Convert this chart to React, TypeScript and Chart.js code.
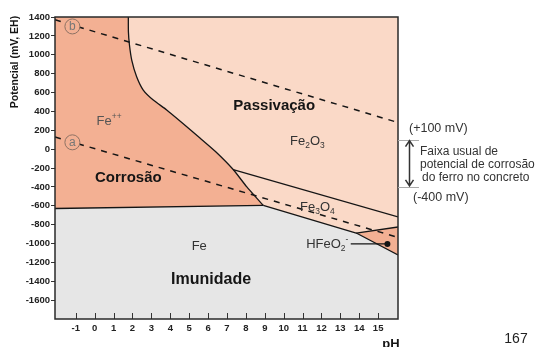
import React, { useEffect, useRef } from 'react';
import { Chart, registerables } from 'chart.js';

Chart.register(...registerables);

const FONT = '"Liberation Sans", Arial, sans-serif';

// axis ranges
const X_MIN = -2.1;
const X_MAX = 16.05;
const Y_MIN = -1800;
const Y_MAX = 1400;

// tick labels
const phTicks = [-1, 0, 1, 2, 3, 4, 5, 6, 7, 8, 9, 10, 11, 12, 13, 14, 15];
const potentialTicks = [1400, 1200, 1000, 800, 600, 400, 200, 0, -200, -400, -600, -800, -1000, -1200, -1400, -1600];

// Fe++ / oxides boundary (pH, mV)
const fePlusPlusBoundary = [
  { x: 1.78, y: 1400 },
  { x: 1.785, y: 1241 },
  { x: 1.84, y: 1103 },
  { x: 1.96, y: 944 },
  { x: 2.22, y: 767 },
  { x: 2.57, y: 626 },
  { x: 3.1, y: 520 },
  { x: 3.81, y: 415 },
  { x: 4.67, y: 272 },
  { x: 5.57, y: 118 },
  { x: 6.42, y: -30 },
  { x: 7.33, y: -216 },
  { x: 8.04, y: -398 },
  { x: 8.92, y: -597 },
];
// Fe / Fe++ boundary
const feFePlusPlusLine = [
  { x: X_MIN, y: -629 },
  { x: 8.92, y: -597 },
];
// Fe2O3 / Fe3O4 boundary
const fe2o3Fe3o4Line = [
  { x: 7.33, y: -216 },
  { x: X_MAX, y: -719 },
];
// Fe / Fe3O4 and Fe / HFeO2- boundary
const feLowerLine = [
  { x: 8.92, y: -597 },
  { x: 13.84, y: -889 },
  { x: X_MAX, y: -1122 },
];
// Fe3O4 / HFeO2- boundary
const fe3o4Hfeo2Line = [
  { x: 13.84, y: -889 },
  { x: X_MAX, y: -825 },
];
// water stability lines
const lineA = [
  { x: X_MIN, y: 128 },
  { x: X_MAX, y: -935 },
];
const lineB = [
  { x: X_MIN, y: 1370 },
  { x: X_MAX, y: 282 },
];
const circlePoints = [
  { x: -1.18, y: 1300 },
  { x: -1.18, y: 72 },
];
const circleLabels = ['b', 'a'];
const hfeo2Leader = [
  { x: 13.55, y: -1005 },
  { x: 15.49, y: -1005 },
];

// regions
const corrosionRegion = [{ x: X_MIN, y: Y_MAX }, ...fePlusPlusBoundary, { x: X_MIN, y: -629 }];
const passivationRegion = [...fePlusPlusBoundary, { x: 13.84, y: -889 }, { x: X_MAX, y: -825 }, { x: X_MAX, y: Y_MAX }];
const hfeo2Region = [{ x: 13.84, y: -889 }, { x: X_MAX, y: -825 }, { x: X_MAX, y: -1122 }];
const immunityRegion = [
  { x: X_MIN, y: -629 },
  { x: 8.92, y: -597 },
  { x: 13.84, y: -889 },
  { x: X_MAX, y: -1122 },
  { x: X_MAX, y: Y_MIN },
  { x: X_MIN, y: Y_MIN },
];

const SALMON = '#f3b093';
const PEACH = '#fad9c7';
const GREY = '#e6e6e6';
const INK = '#151515';

type Part = [string, number]; // 0 normal, 1 sub, 2 sup

function drawFormula(ctx: CanvasRenderingContext2D, parts: Part[], x: number, y: number, size: number, color: string, weight = 'normal', align = 'left') {
  const small = size * 0.65;
  let w = 0;
  for (const [t, m] of parts) {
    ctx.font = `${weight} ${m ? small : size}px ${FONT}`;
    w += ctx.measureText(t).width;
  }
  let cx = align === 'center' ? x - w / 2 : x;
  ctx.fillStyle = color;
  ctx.textAlign = 'left';
  for (const [t, m] of parts) {
    ctx.font = `${weight} ${m ? small : size}px ${FONT}`;
    const dy = m === 1 ? size * 0.25 : m === 2 ? -size * 0.45 : 0;
    ctx.fillText(t, cx, y + dy);
    cx += ctx.measureText(t).width;
  }
}

const annotations = {
  id: 'annotations',
  afterDatasetsDraw(chart: any) {
    const { ctx, chartArea: a, scales } = chart;
    const xs = scales.x;
    const ys = scales.y;
    const px = (v: number) => xs.getPixelForValue(v);
    const py = (v: number) => ys.getPixelForValue(v);
    ctx.save();

    // inward x ticks
    ctx.strokeStyle = '#333';
    ctx.lineWidth = 1;
    for (const t of phTicks) {
      const x = Math.round(px(t)) + 0.5;
      ctx.beginPath();
      ctx.moveTo(x, a.bottom);
      ctx.lineTo(x, a.bottom - 6);
      ctx.stroke();
    }

    // frame
    ctx.strokeStyle = '#2a2a2a';
    ctx.lineWidth = 1.5;
    ctx.strokeRect(a.left, a.top, a.right - a.left, a.bottom - a.top);

    // circle labels
    ctx.textAlign = 'center';
    ctx.textBaseline = 'middle';
    ctx.font = `12px ${FONT}`;
    ctx.fillStyle = '#777';
    circlePoints.forEach((p, i) => {
      ctx.fillText(circleLabels[i], px(p.x), py(p.y) + 0.5);
    });

    // region labels
    ctx.textBaseline = 'alphabetic';
    drawFormula(ctx, [['Fe', 0], ['++', 2]], px(0.1), py(256), 13, '#555');
    drawFormula(ctx, [['Fe', 0], ['2', 1], ['O', 0], ['3', 1]], px(10.34), py(44), 13, '#333');
    drawFormula(ctx, [['Fe', 0], ['3', 1], ['O', 0], ['4', 1]], px(10.87), py(-656), 13, '#333');
    drawFormula(ctx, [['Fe', 0]], px(5.13), py(-1069), 13, '#333');
    drawFormula(ctx, [['HFeO', 0], ['2', 1], ['-', 2]], px(11.19), py(-1048), 13, '#333');

    ctx.textBaseline = 'middle';
    ctx.textAlign = 'center';
    ctx.fillStyle = INK;
    ctx.font = `bold 15px ${FONT}`;
    ctx.fillText('Corrosão', px(1.78), py(-306));
    ctx.fillText('Passivação', px(9.5), py(457));
    ctx.font = `bold 16px ${FONT}`;
    ctx.fillText('Imunidade', px(6.16), py(-1387));

    // right-side annotation
    const yTop = py(100);
    const yBot = py(-400);
    ctx.strokeStyle = '#aaa';
    ctx.lineWidth = 1;
    ctx.beginPath();
    ctx.moveTo(a.right, Math.round(yTop) + 0.5);
    ctx.lineTo(a.right + 21, Math.round(yTop) + 0.5);
    ctx.moveTo(a.right, Math.round(yBot) + 0.5);
    ctx.lineTo(a.right + 21, Math.round(yBot) + 0.5);
    ctx.stroke();

    const ax = a.right + 11.5;
    ctx.strokeStyle = '#333';
    ctx.lineWidth = 1.5;
    ctx.beginPath();
    ctx.moveTo(ax, yTop + 1);
    ctx.lineTo(ax, yBot - 1);
    ctx.moveTo(ax - 4, yTop + 7);
    ctx.lineTo(ax, yTop + 1);
    ctx.lineTo(ax + 4, yTop + 7);
    ctx.moveTo(ax - 4, yBot - 7);
    ctx.lineTo(ax, yBot - 1);
    ctx.lineTo(ax + 4, yBot - 7);
    ctx.stroke();

    ctx.fillStyle = '#333';
    ctx.textAlign = 'left';
    ctx.font = `12.5px ${FONT}`;
    ctx.fillText('(+100 mV)', a.right + 11, yTop - 11);
    ctx.fillText('(-400 mV)', a.right + 15, yBot + 10.5);
    ctx.font = `12px ${FONT}`;
    ctx.fillText('Faixa usual de', a.right + 22, yTop + 12);
    ctx.fillText('potencial de corrosão', a.right + 22, yTop + 25);
    ctx.fillText('do ferro no concreto', a.right + 24, yTop + 38);

    // page number
    ctx.textAlign = 'center';
    ctx.fillStyle = '#222';
    ctx.font = `14px ${FONT}`;
    ctx.fillText('167', 516, 339.5);

    // axis titles
    ctx.font = `bold 13px ${FONT}`;
    ctx.fillStyle = INK;
    ctx.fillText('pH', 391, 344);

    ctx.translate(15, 62);
    ctx.rotate(-Math.PI / 2);
    ctx.font = `bold 10.5px ${FONT}`;
    ctx.fillText('Potencial (mV, EH)', 0, 0);

    ctx.restore();
  },
};

function region(data: any[], color: string, order: number) {
  return {
    data,
    fill: 'shape',
    backgroundColor: color,
    borderColor: 'rgba(0,0,0,0)',
    borderWidth: 0,
    pointRadius: 0,
    tension: 0,
    order,
  };
}

function boundary(data: any[], order: number, extra: any = {}) {
  return {
    data,
    fill: false,
    borderColor: INK,
    borderWidth: 1.3,
    pointRadius: 0,
    tension: 0,
    borderJoinStyle: 'round',
    order,
    ...extra,
  };
}

export default function App() {
  const ref = useRef<HTMLCanvasElement>(null);

  useEffect(() => {
    if (!ref.current) return;
    const chart = new Chart(ref.current, {
      type: 'line',
      data: {
        datasets: [
          region(passivationRegion, PEACH, 20),
          region(corrosionRegion, SALMON, 19),
          region(hfeo2Region, SALMON, 18),
          region(immunityRegion, GREY, 17),
          boundary(fePlusPlusBoundary, 10, { tension: 0.2 }),
          boundary(feFePlusPlusLine, 10),
          boundary(fe2o3Fe3o4Line, 10),
          boundary(feLowerLine, 10),
          boundary(fe3o4Hfeo2Line, 10),
          boundary(lineA, 8, { borderDash: [6, 6], borderWidth: 1.5 }),
          boundary(lineB, 8, { borderDash: [6, 6], borderWidth: 1.5 }),
          {
            data: circlePoints,
            showLine: false,
            pointRadius: 7.5,
            pointBackgroundColor: SALMON,
            pointBorderColor: '#8e7264',
            pointBorderWidth: 1,
            order: 5,
          },
          {
            data: hfeo2Leader,
            borderColor: INK,
            borderWidth: 1.3,
            pointRadius: [0, 3],
            pointBackgroundColor: INK,
            pointBorderColor: INK,
            pointBorderWidth: 0,
            order: 4,
          },
        ] as any,
      },
      options: {
        animation: false,
        responsive: false,
        devicePixelRatio: 1,
        events: [],
        layout: { padding: { left: 0, top: 17, right: 143, bottom: 0 } },
        plugins: { legend: { display: false }, tooltip: { enabled: false } },
        scales: {
          x: {
            type: 'linear',
            min: X_MIN,
            max: X_MAX,
            afterBuildTicks: (s: any) => {
              s.ticks = phTicks.map((v) => ({ value: v }));
            },
            afterFit: (s: any) => {
              s.height = 28;
            },
            grid: { display: false, drawTicks: false },
            border: { display: false },
            ticks: {
              autoSkip: false,
              maxRotation: 0,
              padding: 4,
              color: '#222',
              font: { family: FONT, size: 9.5, weight: 'bold' },
              callback: (v: any) => String(v),
            },
          },
          y: {
            type: 'linear',
            min: Y_MIN,
            max: Y_MAX,
            afterBuildTicks: (s: any) => {
              s.ticks = potentialTicks.map((v) => ({ value: v }));
            },
            afterFit: (s: any) => {
              s.width = 55;
            },
            grid: { display: true, drawOnChartArea: false, drawTicks: true, tickLength: 4, tickColor: '#333', lineWidth: 1 },
            border: { display: false },
            ticks: {
              autoSkip: false,
              padding: 1,
              color: '#222',
              font: { family: FONT, size: 9.5, weight: 'bold' },
              callback: (v: any) => String(v),
            },
          },
        },
      } as any,
      plugins: [annotations],
    });
    return () => chart.destroy();
  }, []);

  return (
    <div style={{ position: 'absolute', left: 0, top: 0, width: 541, height: 347, background: '#fff' }}>
      <canvas ref={ref} width={541} height={347} style={{ display: 'block' }} />
    </div>
  );
}
